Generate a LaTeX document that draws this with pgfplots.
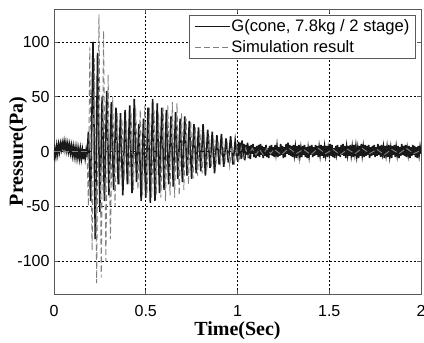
\documentclass[border=0pt]{standalone}
\usepackage{pgfplots}
\pgfplotsset{compat=1.18}
\usepackage{fontspec}
\setmainfont{Liberation Sans}
\newfontfamily\serifb{Liberation Serif}
\definecolor{axgray}{gray}{0.35}
\definecolor{simgray}{gray}{0.5}
\definecolor{measblack}{gray}{0.1}
\begin{document}
\begin{tikzpicture}
\begin{axis}[
  name=ax,
  scale only axis,
  width=367bp, height=285bp,
  xmin=0, xmax=2, ymin=-130, ymax=130,
  xtick={0,0.5,1,1.5,2},
  xticklabels={0,0.5,1,1.5,2},
  ytick={-100,-50,0,50,100},
  yticklabels={-100,-50,0,50,100},
  tick align=inside,
  major tick length=4bp,
  every tick/.style={axgray, line width=0.6bp},
  axis line style={axgray, line width=0.8bp},
  grid=major,
  major grid style={black, line width=0.5bp, dash pattern=on 2bp off 2bp},
  ticklabel style={font=\fontsize{16bp}{19bp}\selectfont},
  xticklabel style={yshift=-8bp},
  yticklabel style={xshift=-1bp},
  xlabel={\serifb\bfseries Time(Sec)},
  ylabel={\serifb\bfseries Pressure(Pa)},
  label style={font=\fontsize{20bp}{24bp}\selectfont},
  y label style={at={(axis description cs:0,0.5)}, anchor=center, yshift=36bp},
  x label style={yshift=2bp},
  legend style={at={(rel axis cs:0.986,0.979)}, anchor=north east,
    draw=axgray, line width=0.8bp, fill=white,
    font=\fontsize{16.6bp}{19bp}\selectfont,
    inner xsep=5bp, inner ysep=2bp, row sep=2bp,
    nodes={inner xsep=1bp, inner ysep=2.5bp}},
  legend cell align=left,
  legend image code/.code={\draw[#1, line width=0.9bp] (0bp,0bp) -- (35bp,0bp);},
]
\addplot[measblack, line width=1.6bp] table[row sep=\\] {
t y\\
0.000 -8\\ 0.005 2\\ 0.010 -4\\ 0.015 5\\ 0.020 -2\\ 0.025 6\\ 0.030 0\\ 0.035 7\\ 0.040 2\\ 0.045 8\\
0.050 3\\ 0.055 9\\ 0.060 2\\ 0.065 8\\ 0.070 1\\ 0.075 7\\ 0.080 0\\ 0.085 6\\ 0.090 -1\\ 0.095 5\\
0.100 -3\\ 0.105 4\\ 0.110 -4\\ 0.115 3\\ 0.120 -5\\ 0.125 3\\ 0.130 -5\\ 0.135 2\\ 0.140 -6\\ 0.145 2\\
0.150 -6\\ 0.155 1\\ 0.160 -7\\ 0.165 2\\ 0.170 -6\\ 0.175 1\\ 0.180 -5\\
0.1875 18\\ 0.2 -45\\ 0.2125 100\\ 0.225 -80\\ 0.2375 90\\ 0.25 -55\\ 0.2625 50\\ 0.275 -45\\
0.2875 55\\ 0.3 -40\\ 0.3125 45\\ 0.325 -35\\ 0.3375 40\\ 0.35 -30\\ 0.3625 35\\ 0.375 -40\\
0.3875 38\\ 0.4 -30\\ 0.4125 42\\ 0.425 -38\\ 0.4375 48\\ 0.45 -28\\ 0.4625 25\\ 0.475 -45\\
0.4875 30\\ 0.5 -42\\ 0.5125 40\\ 0.525 -47\\ 0.5375 48\\ 0.55 -45\\ 0.5625 44\\ 0.575 -38\\
0.5875 40\\ 0.6 -35\\ 0.6125 38\\ 0.625 -30\\ 0.6375 32\\ 0.65 -32\\ 0.6625 36\\ 0.675 -25\\
0.6875 30\\ 0.7 -28\\ 0.7125 32\\ 0.725 -22\\ 0.7375 28\\ 0.75 -25\\ 0.7625 25\\ 0.775 -20\\
0.7875 22\\ 0.8 -18\\ 0.8125 25\\ 0.825 -22\\ 0.8375 20\\ 0.85 -15\\ 0.8625 18\\ 0.875 -20\\
0.8875 15\\ 0.9 -12\\ 0.9125 16\\ 0.925 -14\\ 0.9375 12\\ 0.95 -10\\ 0.9625 14\\ 0.975 -12\\
0.9875 10\\ 1.0 -8\\
1.005 9\\ 1.010 -4\\ 1.015 8\\ 1.020 -7\\ 1.025 10\\ 1.030 -5\\ 1.035 7\\ 1.040 -8\\ 1.045 6\\ 1.050 -3\\
1.055 8\\ 1.060 -6\\ 1.065 5\\ 1.070 -7\\ 1.075 6\\ 1.080 -2\\ 1.085 7\\ 1.090 -5\\ 1.095 4\\ 1.100 -6\\
1.105 5\\ 1.110 -4\\ 1.115 6\\ 1.120 -5\\ 1.125 7\\ 1.130 -3\\ 1.135 5\\ 1.140 -6\\ 1.145 4\\ 1.150 -4\\
1.155 6\\ 1.160 -5\\ 1.165 3\\ 1.170 -6\\ 1.175 5\\ 1.180 -3\\ 1.185 6\\ 1.190 -4\\ 1.195 4\\ 1.200 -5\\
1.205 6\\ 1.210 -2\\ 1.215 5\\ 1.220 -5\\ 1.225 4\\ 1.230 -4\\ 1.235 7\\ 1.240 -3\\ 1.245 5\\ 1.250 -6\\
1.255 4\\ 1.260 -5\\ 1.265 7\\ 1.270 -2\\ 1.275 8\\ 1.280 -3\\ 1.285 6\\ 1.290 -4\\ 1.295 5\\ 1.300 -5\\
1.305 6\\ 1.310 -3\\ 1.315 4\\ 1.320 -6\\ 1.325 5\\ 1.330 -2\\ 1.335 6\\ 1.340 -4\\ 1.345 3\\ 1.350 -5\\
1.355 5\\ 1.360 -3\\ 1.365 6\\ 1.370 -5\\ 1.375 4\\ 1.380 -6\\ 1.385 3\\ 1.390 -4\\ 1.395 5\\ 1.400 -3\\
1.405 6\\ 1.410 -5\\ 1.415 4\\ 1.420 -4\\ 1.425 6\\ 1.430 -3\\ 1.435 5\\ 1.440 -5\\ 1.445 4\\ 1.450 -3\\
1.455 6\\ 1.460 -4\\ 1.465 5\\ 1.470 -6\\ 1.475 4\\ 1.480 -3\\ 1.485 5\\ 1.490 -5\\ 1.495 3\\ 1.500 -2\\
1.505 7\\ 1.510 -4\\ 1.515 6\\ 1.520 -5\\ 1.525 3\\ 1.530 -6\\ 1.535 5\\ 1.540 -2\\ 1.545 6\\ 1.550 -4\\
1.555 4\\ 1.560 -5\\ 1.565 6\\ 1.570 -3\\ 1.575 7\\ 1.580 -4\\ 1.585 5\\ 1.590 -6\\ 1.595 4\\ 1.600 -3\\
1.605 5\\ 1.610 -4\\ 1.615 6\\ 1.620 -3\\ 1.625 4\\ 1.630 -5\\ 1.635 6\\ 1.640 -2\\ 1.645 5\\ 1.650 -4\\
1.655 3\\ 1.660 -6\\ 1.665 5\\ 1.670 -4\\ 1.675 7\\ 1.680 -3\\ 1.685 4\\ 1.690 -5\\ 1.695 6\\ 1.700 -4\\
1.705 5\\ 1.710 -3\\ 1.715 6\\ 1.720 -6\\ 1.725 4\\ 1.730 -4\\ 1.735 5\\ 1.740 -3\\ 1.745 6\\ 1.750 -5\\
1.755 4\\ 1.760 -4\\ 1.765 7\\ 1.770 -3\\ 1.775 5\\ 1.780 -5\\ 1.785 6\\ 1.790 -2\\ 1.795 4\\ 1.800 -6\\
1.805 5\\ 1.810 -3\\ 1.815 4\\ 1.820 -5\\ 1.825 6\\ 1.830 -4\\ 1.835 3\\ 1.840 -6\\ 1.845 5\\ 1.850 -3\\
1.855 6\\ 1.860 -5\\ 1.865 4\\ 1.870 -3\\ 1.875 5\\ 1.880 -6\\ 1.885 4\\ 1.890 -4\\ 1.895 7\\ 1.900 -3\\
1.905 5\\ 1.910 -4\\ 1.915 6\\ 1.920 -5\\ 1.925 3\\ 1.930 -3\\ 1.935 5\\ 1.940 -6\\ 1.945 4\\ 1.950 -4\\
1.955 6\\ 1.960 -3\\ 1.965 5\\ 1.970 -5\\ 1.975 4\\ 1.980 -6\\ 1.985 5\\ 1.990 -3\\ 1.995 4\\ 2.000 -2\\
};
\addlegendentry{G(cone, 7.8kg / 2 stage)}
\addplot[simgray, line width=0.9bp, dash pattern=on 6bp off 3bp] coordinates {
(0,0) (0.18,0)
(0.1875,-50) (0.195,95) (0.2075,-90) (0.22,85) (0.2325,-120) (0.245,125) (0.2575,-115) (0.27,110)
(0.2825,-100) (0.295,70) (0.3075,-80) (0.32,50) (0.3325,-50) (0.345,35) (0.3575,-30) (0.37,30)
(0.3825,-25) (0.395,28) (0.4075,-30) (0.42,35) (0.4325,-35) (0.445,40) (0.4575,-35) (0.47,38)
(0.4825,-40) (0.495,42) (0.5075,-38) (0.52,40) (0.5325,-42) (0.545,38) (0.5575,-40) (0.57,35)
(0.5825,-42) (0.595,40) (0.6075,-45) (0.62,42) (0.6325,-40) (0.645,45) (0.6575,-42) (0.67,44)
(0.6825,-40) (0.695,35) (0.7075,-35) (0.72,30) (0.7325,-30) (0.745,28) (0.7575,-25) (0.77,22)
(0.7825,-22) (0.795,20) (0.8075,-20) (0.82,15) (0.8325,-18) (0.845,14) (0.8575,-14) (0.87,12)
(0.8825,-12) (0.895,10) (0.9075,-10) (0.92,8) (0.9325,-8) (0.945,6) (0.9575,-14) (0.97,5)
(0.9825,-12) (0.995,4) (1.0075,-10) (1.02,4) (1.0325,-8) (1.045,3) (1.0575,-5)
(1.08,3) (1.1,-3) (1.12,2) (1.14,-3) (1.16,3) (1.18,-2) (1.2,2) (1.24,-3) (1.28,3) (1.32,-2)
(1.36,2) (1.4,-3) (1.44,3) (1.48,-2) (1.52,2) (1.56,-3) (1.6,2) (1.64,-2) (1.68,3) (1.72,-2)
(1.76,2) (1.8,-3) (1.84,2) (1.88,-2) (1.92,3) (1.96,-2) (2.0,1)
};
\addlegendentry{Simulation result}
\coordinate (bl) at (rel axis cs:0,0);
\coordinate (tr) at (rel axis cs:1,1);
\end{axis}
\pgfresetboundingbox
\path ([shift={(-54bp,-49bp)}]bl) rectangle ([shift={(3bp,9bp)}]tr);
\end{tikzpicture}
\end{document}
